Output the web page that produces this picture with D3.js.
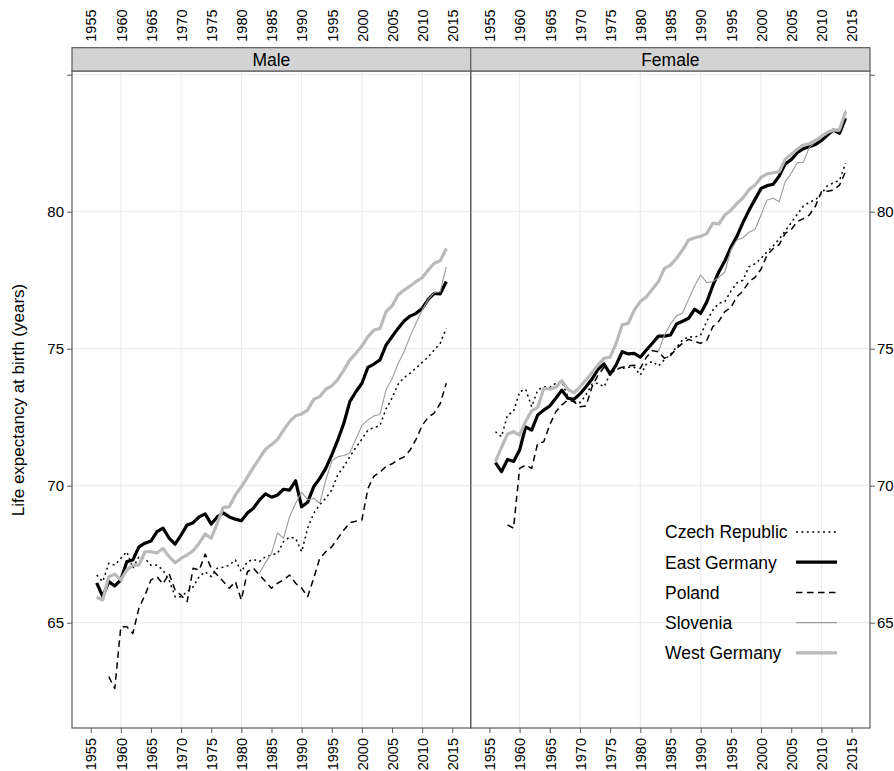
<!DOCTYPE html>
<html>
<head>
<meta charset="utf-8">
<script src="https://cdn.jsdelivr.net/npm/d3@7"></script>
<style>
  html, body { margin: 0; padding: 0; background: #fff; }
  svg { display: block; }
  text { font-family: "Liberation Sans", Arial, Helvetica, sans-serif; fill: #000; }
</style>
</head>
<body>
<svg id="chart" width="894" height="771"></svg>
<script>
// ---------------- data ----------------
const years = [1956,1957,1958,1959,1960,1961,1962,1963,1964,1965,
  1966,1967,1968,1969,1970,1971,1972,1973,1974,1975,
  1976,1977,1978,1979,1980,1981,1982,1983,1984,1985,
  1986,1987,1988,1989,1990,1991,1992,1993,1994,1995,
  1996,1997,1998,1999,2000,2001,2002,2003,2004,2005,
  2006,2007,2008,2009,2010,2011,2012,2013,2014];

const countries = ["Czech Republic", "East Germany", "Poland", "Slovenia", "West Germany"];
const panels = ["Male", "Female"];
const xTickLabels = [1955,1960,1965,1970,1975,1980,1985,1990,1995,2000,2005,2010,2015];
const xGridValues = [1960,1970,1980,1990,2000,2010];
const yTickLabels = [65,70,75,80,85];
const yTitle = "Life expectancy at birth (years)";

const N = null;
const czechMale = [66.74,66.5,67.17,67.1,67.35,67.59,66.99,67.41,67.35,67.1,
  67.1,66.92,66.56,65.95,65.95,66.13,66.31,66.68,66.86,66.68,
  66.99,67.02,67.1,67.29,66.86,67.23,67.31,67.23,67.41,67.47,
  67.53,67.96,68.12,68.08,67.59,68.45,68.99,69.3,69.54,69.84,
  70.4,70.7,71.06,71.4,71.7,72.03,72.12,72.2,72.8,73.2,
  73.7,73.95,74.1,74.3,74.5,74.7,74.95,75.2,75.74];
const eastGermanyMale = [66.45,65.95,66.5,66.34,66.56,67.23,67.29,67.77,67.9,67.98,
  68.32,68.45,68.09,67.87,68.2,68.57,68.65,68.86,68.97,68.6,
  68.86,69.01,68.86,68.78,68.72,69.0,69.18,69.48,69.7,69.58,
  69.66,69.87,69.84,70.18,69.23,69.4,69.96,70.27,70.63,71.12,
  71.67,72.28,73.07,73.43,73.74,74.32,74.44,74.59,75.13,75.44,
  75.74,76.01,76.19,76.29,76.47,76.8,77.02,77.0,77.45];
const polandMale = [N,N,63.03,62.6,64.85,64.85,64.61,65.53,66.0,66.56,
  66.68,66.41,66.8,66.19,66.0,65.77,66.99,66.92,67.5,66.99,
  66.74,66.5,66.26,66.5,65.83,66.86,66.99,66.74,66.5,66.26,
  66.44,66.56,66.74,66.44,66.26,65.95,66.62,67.35,67.59,67.77,
  68.08,68.38,68.65,68.7,68.75,69.9,70.35,70.5,70.7,70.8,
  70.95,71.05,71.3,71.7,72.2,72.5,72.65,73.0,73.74];
const sloveniaMale = [N,N,N,N,N,N,N,N,N,N,
  N,N,N,N,N,N,N,N,N,N,
  N,N,N,N,N,N,N,66.8,67.2,67.53,
  68.28,68.08,68.87,69.36,69.76,69.48,69.54,69.36,70.2,70.9,
  71.06,71.1,71.2,71.7,72.2,72.4,72.55,72.6,73.5,73.9,
  74.45,74.9,75.45,75.95,76.4,76.8,77.05,77.08,77.99];
const westGermanyMale = [65.93,65.83,66.68,66.77,66.56,66.92,67.1,67.1,67.59,67.59,
  67.55,67.71,67.41,67.19,67.35,67.47,67.63,67.9,68.24,68.08,
  68.63,69.21,69.23,69.66,69.96,70.31,70.67,71.0,71.33,71.5,
  71.69,72.03,72.34,72.55,72.62,72.76,73.15,73.25,73.52,73.64,
  73.88,74.22,74.59,74.83,75.1,75.44,75.68,75.74,76.35,76.56,
  76.96,77.14,77.29,77.45,77.59,77.87,78.12,78.21,78.66];

const czechFemale = [71.97,71.79,72.58,72.7,73.43,73.52,72.88,73.49,73.61,73.59,
  73.74,73.8,73.25,73.07,73.03,73.31,73.71,73.74,73.61,74.08,
  74.25,74.28,74.32,74.32,74.04,74.44,74.53,74.37,74.6,74.8,
  75.05,75.32,75.44,75.42,75.5,76.0,76.4,76.66,76.72,77.1,
  77.4,77.5,77.99,78.1,78.3,78.54,78.75,79.0,79.3,79.6,
  79.9,80.2,80.35,80.43,80.65,80.95,81.05,81.15,81.77];
const eastGermanyFemale = [70.84,70.51,70.96,70.88,71.3,72.15,72.03,72.58,72.76,72.91,
  73.19,73.49,73.19,73.15,73.35,73.61,73.89,74.25,74.44,74.07,
  74.41,74.89,74.81,74.83,74.69,74.95,75.2,75.46,75.46,75.5,
  75.9,76.0,76.11,76.44,76.29,76.7,77.3,77.8,78.2,78.7,
  79.1,79.6,80.05,80.45,80.85,80.95,81.0,81.3,81.74,81.9,
  82.15,82.3,82.37,82.45,82.6,82.8,82.98,82.86,83.41];
const polandFemale = [N,N,68.57,68.45,70.63,70.75,70.63,71.55,71.6,72.22,
  72.7,72.95,73.13,73.07,72.88,72.91,73.61,74.04,74.32,74.16,
  74.25,74.32,74.37,74.4,74.28,74.69,74.93,74.89,74.65,74.75,
  75.01,75.2,75.34,75.26,75.2,75.3,75.8,76.0,76.35,76.5,
  76.9,77.1,77.45,77.6,77.9,78.42,78.65,78.8,79.21,79.35,
  79.64,79.75,79.88,80.2,80.73,80.75,80.79,80.97,81.46];
const sloveniaFemale = [N,N,N,N,N,N,N,N,N,N,
  N,N,N,N,N,N,N,N,N,N,
  N,N,N,N,N,N,N,74.9,75.5,75.9,
  76.2,76.3,76.8,77.3,77.69,77.41,77.45,77.6,77.8,78.6,
  78.97,79.05,79.25,79.35,79.88,80.43,80.49,80.36,81.1,81.4,
  81.79,81.8,82.35,82.55,82.7,82.85,82.96,82.92,83.71];
const westGermanyFemale = [70.88,71.4,71.89,71.97,71.85,72.34,72.73,72.86,73.55,73.52,
  73.59,73.83,73.52,73.39,73.61,73.86,74.12,74.41,74.65,74.69,
  75.2,75.87,75.93,76.41,76.72,76.9,77.17,77.45,77.93,78.05,
  78.3,78.6,78.97,79.05,79.1,79.2,79.58,79.55,79.88,80.05,
  80.3,80.5,80.8,80.97,81.25,81.38,81.42,81.46,81.91,82.1,
  82.28,82.43,82.48,82.6,82.75,82.9,82.98,83.0,83.65];

// series per panel, in legend order
const seriesByPanel = {
  "Male":   [czechMale, eastGermanyMale, polandMale, sloveniaMale, westGermanyMale],
  "Female": [czechFemale, eastGermanyFemale, polandFemale, sloveniaFemale, westGermanyFemale]
};

// ---------------- styles ----------------
const styles = [
  { stroke: "#000000", width: 1.5, dash: "2,3.4" },   // Czech Republic
  { stroke: "#000000", width: 3.2, dash: null },      // East Germany
  { stroke: "#000000", width: 1.5, dash: "6.5,4.5" }, // Poland
  { stroke: "#9a9a9a", width: 1.1, dash: null },      // Slovenia
  { stroke: "#bababa", width: 3.2, dash: null }       // West Germany
];

// ---------------- layout ----------------
const svg = d3.select("#chart");
svg.append("rect").attr("width", 894).attr("height", 771).attr("fill", "#fff");

const panelTop = 71, panelBottom = 728, stripTop = 47.7;
const panelEdges = [[72, 470.7], [470.7, 870]];
const xDomain = [1951.9, 2018.05];

const y = d3.scaleLinear().domain([61.157, 85.135]).range([panelBottom, panelTop]);
const xScales = panelEdges.map(r => d3.scaleLinear().domain(xDomain).range(r));

const borderColor = "#5a5a5a";
const gridColor = "#e9e9e9";
const fontStack = '"Liberation Sans", Arial, Helvetica, sans-serif';

panels.forEach((panel, pi) => {
  const x = xScales[pi];
  const [x0, x1] = panelEdges[pi];
  const g = svg.append("g");

  // grid
  g.selectAll("line.gx").data(xGridValues).enter().append("line")
    .attr("x1", d => x(d)).attr("x2", d => x(d))
    .attr("y1", panelTop).attr("y2", panelBottom)
    .attr("stroke", gridColor).attr("stroke-width", 1);
  g.selectAll("line.gy").data(yTickLabels).enter().append("line")
    .attr("x1", x0).attr("x2", x1)
    .attr("y1", d => y(d)).attr("y2", d => y(d))
    .attr("stroke", gridColor).attr("stroke-width", 1);

  // clip
  const clipId = "clip" + pi;
  svg.append("clipPath").attr("id", clipId).append("rect")
    .attr("x", x0).attr("y", panelTop).attr("width", x1 - x0).attr("height", panelBottom - panelTop);

  // lines
  const line = d3.line()
    .defined(d => d[1] != null)
    .x(d => x(d[0]))
    .y(d => y(d[1]));
  const lg = g.append("g").attr("clip-path", `url(#${clipId})`);
  seriesByPanel[panel].forEach((vals, si) => {
    const st = styles[si];
    lg.append("path")
      .datum(years.map((yr, i) => [yr, vals[i]]))
      .attr("d", line)
      .attr("fill", "none")
      .attr("stroke", st.stroke)
      .attr("stroke-width", st.width)
      .attr("stroke-linejoin", "round")
      .attr("stroke-dasharray", st.dash);
  });

  // panel border
  g.append("rect").attr("x", x0).attr("y", panelTop)
    .attr("width", x1 - x0).attr("height", panelBottom - panelTop)
    .attr("fill", "none").attr("stroke", borderColor).attr("stroke-width", 1.2);

  // strip
  g.append("rect").attr("x", x0).attr("y", stripTop)
    .attr("width", x1 - x0).attr("height", panelTop - stripTop)
    .attr("fill", "#d3d3d3").attr("stroke", borderColor).attr("stroke-width", 1.2);
  g.append("text").attr("x", (x0 + x1) / 2).attr("y", (stripTop + panelTop) / 2)
    .attr("dy", "0.36em").attr("text-anchor", "middle")
    .style("font-size", "17.5px").text(panel);

  // bottom axis
  const bAxis = g.append("g").attr("transform", `translate(0,${panelBottom})`)
    .call(d3.axisBottom(x).tickValues(xTickLabels).tickSize(5).tickFormat(d3.format("d")));
  bAxis.select(".domain").remove();
  bAxis.selectAll(".tick line").attr("stroke", borderColor);
  bAxis.selectAll(".tick text")
    .attr("transform", "rotate(-90)")
    .attr("text-anchor", "end")
    .attr("x", -10).attr("y", 0).attr("dy", "0.36em")
    .style("font-size", "14.5px").style("font-family", fontStack).attr("fill", "#000");

  // top axis labels
  const tAxis = g.append("g").attr("transform", `translate(0,${stripTop})`)
    .call(d3.axisTop(x).tickValues(xTickLabels).tickSize(0).tickFormat(d3.format("d")));
  tAxis.select(".domain").remove();
  tAxis.selectAll(".tick line").remove();
  tAxis.selectAll(".tick text")
    .attr("transform", "rotate(-90)")
    .attr("text-anchor", "start")
    .attr("x", 6).attr("y", 0).attr("dy", "0.36em")
    .style("font-size", "14.5px").style("font-family", fontStack).attr("fill", "#000");

  // y axis
  const yFmt = d => (d === 85 ? "" : String(d));
  if (pi === 0) {
    const la = g.append("g").attr("transform", `translate(${x0},0)`)
      .call(d3.axisLeft(y).tickValues(yTickLabels).tickSize(5).tickPadding(3).tickFormat(yFmt));
    la.select(".domain").remove();
    la.selectAll(".tick line").attr("stroke", borderColor);
    la.selectAll(".tick text").style("font-size", "15px").style("font-family", fontStack).attr("fill", "#000");
  } else {
    const ra = g.append("g").attr("transform", `translate(${x1},0)`)
      .call(d3.axisRight(y).tickValues(yTickLabels).tickSize(5).tickPadding(2).tickFormat(yFmt));
    ra.select(".domain").remove();
    ra.selectAll(".tick line").attr("stroke", borderColor);
    ra.selectAll(".tick text").style("font-size", "15px").style("font-family", fontStack).attr("fill", "#000");
  }
});

// y title
svg.append("text")
  .attr("transform", "translate(18,400) rotate(-90)")
  .attr("text-anchor", "middle").attr("dy", "0.36em")
  .style("font-size", "17px").text(yTitle);

// legend (inside right panel)
const legendX = 665, legendY0 = 532, legendStep = 30.2, sampleX0 = 796, sampleX1 = 837;
const leg = svg.append("g");
countries.forEach((c, i) => {
  const yy = legendY0 + i * legendStep;
  leg.append("text").attr("x", legendX).attr("y", yy).attr("dy", "0.36em")
    .style("font-size", "17.5px").text(c);
  const st = styles[i];
  leg.append("line").attr("x1", sampleX0).attr("x2", sampleX1)
    .attr("y1", yy).attr("y2", yy)
    .attr("stroke", st.stroke).attr("stroke-width", st.width)
    .attr("stroke-dasharray", st.dash);
});
</script>
</body>
</html>
